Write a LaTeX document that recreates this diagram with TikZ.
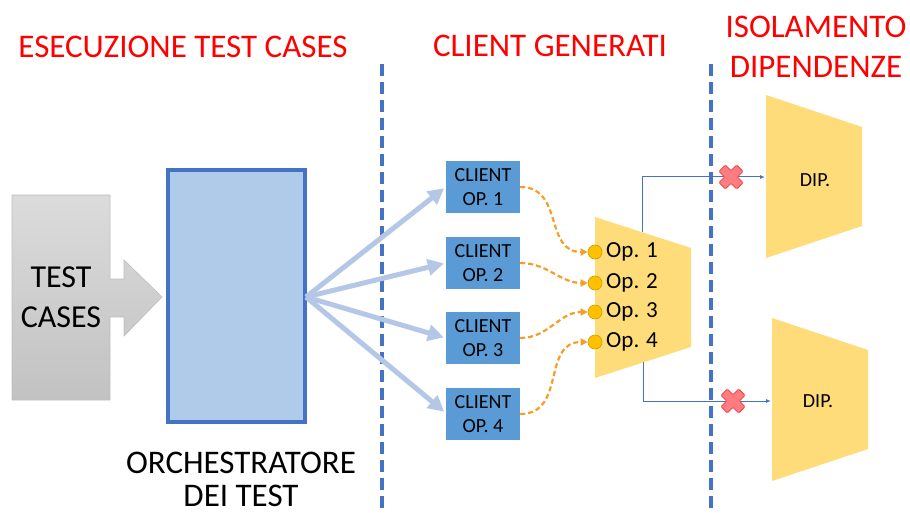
\documentclass[tikz,border=0pt]{standalone}
\usepackage{fontspec}
\setmainfont{Carlito}
\usetikzlibrary{arrows.meta,calc}
\definecolor{titlered}{RGB}{255,0,0}
\definecolor{sepblue}{RGB}{68,114,196}
\definecolor{orchfill}{RGB}{175,203,233}
\definecolor{clientblue}{RGB}{91,155,213}
\definecolor{fanblue}{RGB}{180,199,231}
\definecolor{trapyellow}{RGB}{255,220,122}
\definecolor{dotfill}{RGB}{255,192,0}
\definecolor{dotdraw}{RGB}{201,160,0}
\definecolor{orangedash}{RGB}{246,158,40}
\definecolor{xfill}{RGB}{255,124,128}
\definecolor{xdraw}{RGB}{240,60,60}
\definecolor{grayedge}{RGB}{190,190,190}
\tikzset{
  title/.style={text=titlered, font=\fontsize{33}{40}\selectfont, inner sep=0pt},
  bigtext/.style={text=black, font=\fontsize{33}{33}\selectfont, inner sep=0pt, align=center},
  sepline/.style={draw=sepblue, line width=4pt, dash pattern=on 12pt off 6pt},
  orchbox/.style={draw=sepblue, line width=4pt, fill=orchfill},
  client/.style={rectangle, fill=clientblue, minimum width=74pt, minimum height=52pt, inner sep=0pt, align=center, font=\fontsize{20}{24}\selectfont},
  fanarrow/.style={draw=fanblue, line width=5pt, -{Triangle[length=16pt,width=16pt]}, shorten >=2pt},
  orangecurve/.style={draw=orangedash, line width=2.2pt, dash pattern=on 5pt off 3pt, -{Triangle[length=7pt,width=7pt]}},
  opdot/.style={circle, minimum size=14pt, inner sep=0pt, fill=dotfill, draw=dotdraw, line width=0.6pt},
  oplabel/.style={font=\fontsize{23}{28}\selectfont, inner sep=0pt, anchor=base west},
  trap/.style={fill=trapyellow, draw=none},
  thinblue/.style={draw=sepblue, line width=1pt, -{Latex[length=5pt,width=4pt]}},
  diptext/.style={font=\fontsize{20}{24}\selectfont, inner sep=0pt},
  redx/.pic={\draw[fill=xfill, draw=xdraw, line width=0.8pt, rotate=45, rounded corners=1pt]
     (4.5,12.5) -- (4.5,4.5) -- (12.5,4.5) -- (12.5,-4.5) -- (4.5,-4.5) -- (4.5,-12.5) -- (-4.5,-12.5) -- (-4.5,-4.5) -- (-12.5,-4.5) -- (-12.5,4.5) -- (-4.5,4.5) -- (-4.5,12.5) -- cycle;}
}
\begin{document}
\begin{tikzpicture}[x=1pt,y=-1pt]
\useasboundingbox (0,0) rectangle (910,513);
% titles
\node[title, anchor=base] (t1) at (183,58) {ESECUZIONE TEST CASES};
\node[title, anchor=base] (t2) at (550,57) {CLIENT GENERATI};
\node[title, anchor=base] (t3a) at (816,38) {ISOLAMENTO};
\node[title, anchor=base] (t3b) at (816,78) {DIPENDENZE};
% separators
\coordinate (s1a) at (382,64); \coordinate (s1b) at (382,513);
\coordinate (s2a) at (711,64); \coordinate (s2b) at (711,513);
\draw[sepline] (s1a) -- (s1b);
\draw[sepline] (s2a) -- (s2b);
% test cases arrow
\shade[top color=gray!28, bottom color=gray!48, draw=grayedge, line width=0.6pt]
  (12,195) -- (110,195) -- (110,279) -- (124,279) -- (124,260) -- (162,297) -- (124,336) -- (124,317) -- (110,317) -- (110,400) -- (12,400) -- cycle;
\node[bigtext, anchor=base, font=\fontsize{32}{40}\selectfont] (tc1) at (61,287) {TEST};
\node[bigtext, anchor=base, font=\fontsize{32}{40}\selectfont] (tc2) at (61,327) {CASES};
% orchestrator
\node[orchbox, rectangle, minimum width=137pt, minimum height=252pt, inner sep=0pt, outer sep=0pt] (orch) at (236.5,296) {};
\node[bigtext, anchor=north] (orchlbl) at (241,452) {ORCHESTRATORE\\DEI TEST};
% clients
\node[client] (c1) at (483,187) {CLIENT\\OP. 1};
\node[client] (c2) at (483,263) {CLIENT\\OP. 2};
\node[client] (c3) at (483,338) {CLIENT\\OP. 3};
\node[client] (c4) at (483,414) {CLIENT\\OP. 4};
% fan arrows
\coordinate (fan) at (306,297);
\foreach \c/\y in {c1/187,c2/263,c3/338,c4/413}{
  \draw[fanarrow] (fan) -- (\c.west |- 0,\y);
}
% middle trapezoid
\coordinate (m1) at (595,217); \coordinate (m2) at (691,248);
\coordinate (m3) at (691,347); \coordinate (m4) at (595,378);
\fill[trap] (m1) -- (m2) -- (m3) -- (m4) -- cycle;
% op dots and labels
\node[opdot] (o1) at (595,252) {};
\node[opdot] (o2) at (595,283) {};
\node[opdot] (o3) at (595,312) {};
\node[opdot] (o4) at (595,342) {};
\node[oplabel] (l1) at (606,257) {Op. 1};
\node[oplabel] (l2) at (606,288) {Op. 2};
\node[oplabel] (l3) at (606,317) {Op. 3};
\node[oplabel] (l4) at (606,347) {Op. 4};
% orange curves
\draw[orangecurve] (c1.east) to[out=0,in=180,looseness=1.2] (o1.west);
\draw[orangecurve] (c2.east) to[out=0,in=180,looseness=1] (o2.west);
\draw[orangecurve] (c3.east) to[out=0,in=180,looseness=1] (o3.west);
\draw[orangecurve] (c4.east) to[out=0,in=180,looseness=1.2] (o4.west);
% dependency trapezoids
\fill[trap] (766,95) -- (862,127) -- (862,226) -- (766,258) -- cycle;
\fill[trap] (772,318) -- (868,350) -- (868,449) -- (772,481) -- cycle;
\node[diptext] (d1) at (815,180) {DIP.};
\node[diptext] (d2) at (818,401) {DIP.};
\coordinate (d1in) at (765,177);
\coordinate (d2in) at (771,401);
% blue connectors
\coordinate (up) at (642,232);
\coordinate (dn) at (643,362);
\draw[thinblue] (up) |- (d1in);
\draw[thinblue] (dn) |- (d2in);
% red crosses
\pic at (731,177) {redx};
\pic at (733,401) {redx};
\end{tikzpicture}
\end{document}
